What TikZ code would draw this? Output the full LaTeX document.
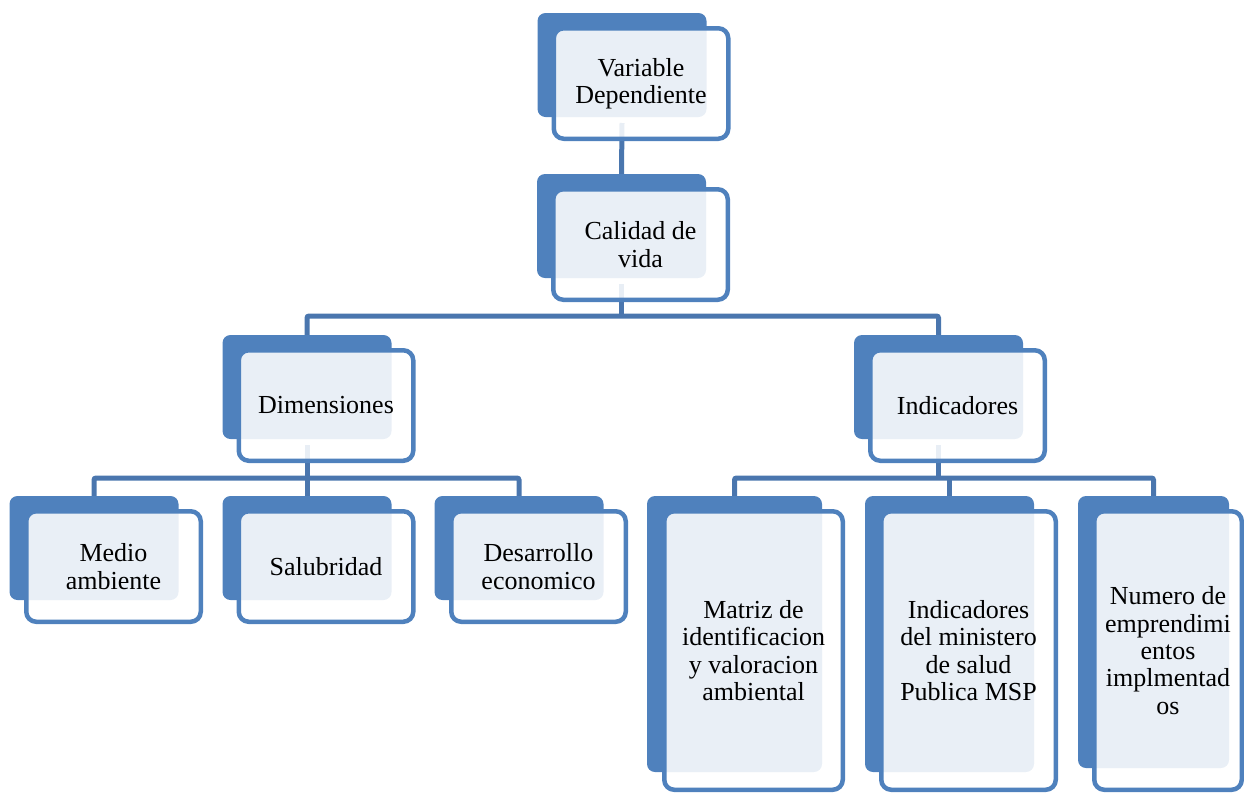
\documentclass[tikz,border=0pt]{standalone}
\usepackage{fontspec}
\setmainfont{Liberation Serif}
\usetikzlibrary{calc}
\pgfdeclarelayer{links}
\pgfsetlayers{links,main}
\definecolor{accent}{HTML}{4F81BD}
\definecolor{linkblue}{HTML}{4A76AE}

\tikzset{
  backbox/.style={draw=none, fill=accent, rounded corners=8pt, inner sep=0pt, outer sep=0pt},
  frontbox/.style={draw=accent, line width=4.5pt, fill=white, fill opacity=0.88,
    text opacity=1, rounded corners=10pt, align=center, inner sep=0pt,
    font=\fontsize{26}{27.3}\selectfont},
  link/.style={draw=linkblue, line width=5pt, rounded corners=2pt},
}

% #1 name, #2 back centre, #3/#4 back size, #5 front centre, #6/#7 front size, #8 label
\newcommand\treebox[8]{%
  \node[backbox, minimum width=#3, minimum height=#4] (#1b) at #2 {};
  \node[frontbox, minimum width=#6, minimum height=#7] (#1) at #5 {#8};
}

\begin{document}
\begin{tikzpicture}[x=1pt, y=-1pt]
  \useasboundingbox (0,0) rectangle (1244,793);

  % level 0 and 1
  \treebox{vd}{(622,65)}{169pt}{104pt}{(641,83.5)}{174.5pt}{110.5pt}{Variable\\Dependiente}
  \treebox{cal}{(621.5,226)}{169pt}{104pt}{(640.5,244.5)}{174.5pt}{110.5pt}{Calidad de\\vida}

  % level 2
  \treebox{dim}{(307,387)}{169pt}{104pt}{(326,405.5)}{174.5pt}{110.5pt}{Dimensiones}
  \treebox{ind}{(938.5,387)}{169pt}{104pt}{(957.5,405.5)}{174.5pt}{110.5pt}{Indicadores}

  % level 3, dimensions
  \treebox{med}{(94,548)}{169pt}{104pt}{(113.5,566.5)}{174.5pt}{110.5pt}{Medio\\ambiente}
  \treebox{sal}{(307,548)}{169pt}{104pt}{(326,566.5)}{174.5pt}{110.5pt}{Salubridad}
  \treebox{des}{(519,548)}{169pt}{104pt}{(538.5,566.5)}{174.5pt}{110.5pt}{Desarrollo\\economico}

  % level 3, indicators
  \treebox{mat}{(734.5,634)}{175pt}{276pt}{(753.5,650.5)}{178.5pt}{278.5pt}{Matriz de\\identificacion\\y valoracion\\ambiental}
  \treebox{min}{(949.5,634)}{169pt}{276pt}{(968.5,650.5)}{174.5pt}{278.5pt}{Indicadores\\del ministero\\de salud\\Publica MSP}
  \treebox{num}{(1153.5,632)}{151pt}{272pt}{(1168,650.5)}{147.5pt}{278.5pt}{Numero de\\emprendimi\\entos\\implmentad\\os}

  \coordinate (bus1) at (0,316);
  \coordinate (bus2) at (0,478);

  \begin{pgfonlayer}{links}
    \draw[link] ([yshift=-6pt]vdb.south) -- (calb.north);
    \draw[link] ([yshift=-6pt]calb.south) -- (calb.south |- bus1);
    \draw[link] (dimb.north) -- (dimb.north |- bus1) -| (indb.north);

    \draw[link] ([yshift=-6pt]dimb.south) -- (dimb.south |- bus2);
    \draw[link] (medb.north) -- (medb.north |- bus2) -| (desb.north);
    \draw[link] (salb.north) -- (salb.north |- bus2);

    \draw[link] ([yshift=-6pt]indb.south) -- (indb.south |- bus2);
    \draw[link] (matb.north) -- (matb.north |- bus2) -| (numb.north);
    \draw[link] (minb.north) -- (minb.north |- bus2);
  \end{pgfonlayer}
\end{tikzpicture}
\end{document}
